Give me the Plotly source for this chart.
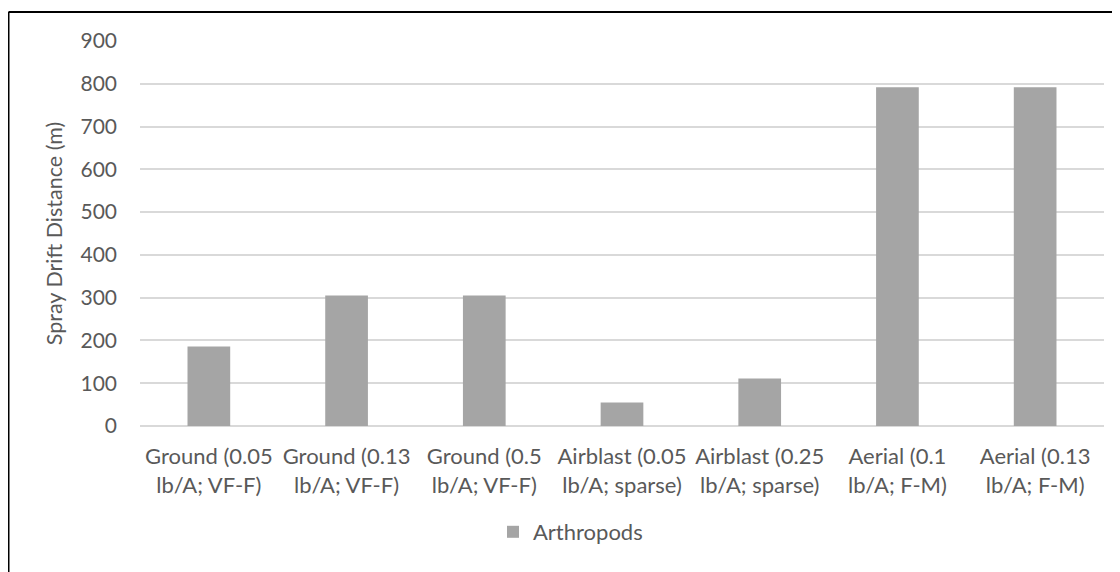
import plotly.graph_objects as go

categories = [
    "Ground (0.05<br>lb/A; VF-F)",
    "Ground (0.13<br>lb/A; VF-F)",
    "Ground (0.5<br>lb/A; VF-F)",
    "Airblast (0.05<br>lb/A; sparse)",
    "Airblast (0.25<br>lb/A; sparse)",
    "Aerial (0.1<br>lb/A; F-M)",
    "Aerial (0.13<br>lb/A; F-M)",
]
arthropods = [186, 305, 305, 55, 111, 792, 792]
series_name = "Arthropods"
y_ticks = [0, 100, 200, 300, 400, 500, 600, 700, 800, 900]

# page has an 8px body margin; work in page pixels, convert to figure pixels
OFF = 8
W, H = 1120 - OFF, 572 - OFF
PL, PR, PT, PB = 140, 1104, 41, 426  # plot area in page pixels
L, T = PL - OFF, PT - OFF
R = W - (PR - OFF)
B = H - (PB - OFF)
pw, ph = PR - PL, PB - PT

def px_x(p):
    return (p - PL) / pw

def px_y(p):
    return (PB - p) / ph

font_fam = "Lato, 'Open Sans', sans-serif"
txt = "#595959"

fig = go.Figure()
fig.add_trace(go.Bar(
    x=categories, y=arthropods, name=series_name,
    marker=dict(color="#A5A5A5", line=dict(width=0)),
    showlegend=True,
))

fig.update_layout(
    width=W, height=H,
    margin=dict(l=L, r=R, t=T, b=B, pad=0),
    paper_bgcolor="white", plot_bgcolor="white",
    bargap=0.69,
    font=dict(family=font_fam, size=21, color=txt),
    showlegend=True,
    legend=dict(
        orientation="h", x=px_x(493), xanchor="left",
        y=px_y(532), yanchor="middle",
        font=dict(size=22, color=txt),
        itemwidth=30,
    ),
    xaxis=dict(
        showline=False, ticks="", showgrid=False,
        tickfont=dict(size=22, color=txt),
        ticklabelstandoff=15,
    ),
    yaxis=dict(
        range=[0, 900], tickvals=y_ticks,
        showgrid=True, gridcolor="#D9D9D9", gridwidth=1.5,
        zeroline=True, zerolinecolor="#D9D9D9", zerolinewidth=1.5,
        showline=False, ticks="",
        tickfont=dict(size=21, color=txt),
        ticklabelstandoff=22,
        title=dict(text="Spray Drift Distance (m)", font=dict(size=21.5, color=txt), standoff=11),
    ),
    shapes=[
        dict(type="line", xref="paper", yref="paper",
             x0=px_x(8.5), x1=px_x(8.5), y0=px_y(12), y1=px_y(580),
             line=dict(color="black", width=2)),
        dict(type="line", xref="paper", yref="paper",
             x0=px_x(8.5), x1=px_x(1130), y0=px_y(12), y1=px_y(12),
             line=dict(color="black", width=2)),
    ],
)

fig.write_html("out.html")
